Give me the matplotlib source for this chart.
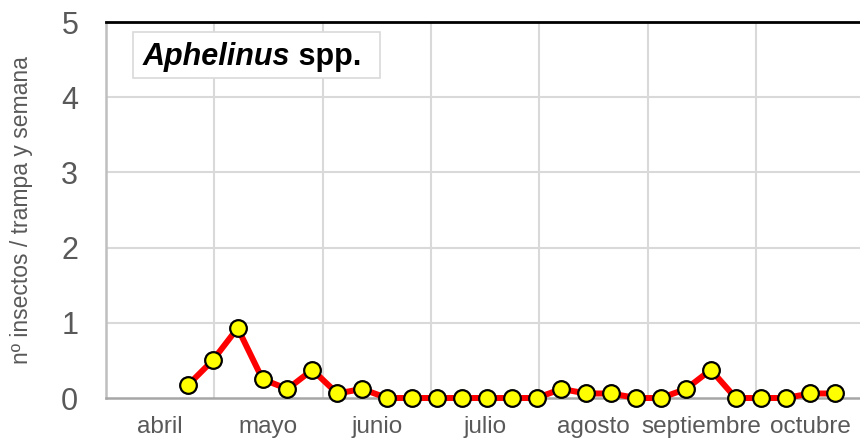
import matplotlib
matplotlib.use("Agg")
import matplotlib.pyplot as plt
from matplotlib.patches import Rectangle
import matplotlib.transforms as mtransforms
from datetime import date

plt.rcParams['font.family'] = ['Liberation Sans', 'DejaVu Sans']

# weekly trap counts (dates of sampling)
fechas = ['2000-04-24', '2000-05-01', '2000-05-08', '2000-05-15', '2000-05-22',
          '2000-05-29', '2000-06-05', '2000-06-12', '2000-06-19', '2000-06-26',
          '2000-07-03', '2000-07-10', '2000-07-17', '2000-07-24', '2000-07-31',
          '2000-08-07', '2000-08-14', '2000-08-21', '2000-08-28', '2000-09-04',
          '2000-09-11', '2000-09-18', '2000-09-25', '2000-10-02', '2000-10-09',
          '2000-10-16', '2000-10-23']
capturas = [0.17, 0.5, 0.93, 0.25, 0.12, 0.375, 0.06, 0.12, 0.0, 0.0,
            0.0, 0.0, 0.0, 0.0, 0.0, 0.12, 0.06, 0.06, 0.0, 0.0,
            0.12, 0.375, 0.0, 0.0, 0.0, 0.06, 0.06]
meses = ['abril', 'mayo', 'junio', 'julio', 'agosto', 'septiembre', 'octubre']

inicio = date(2000, 4, 1)
x = [(date.fromisoformat(f) - inicio).days / 30.44 for f in fechas]

W, H = 860, 441
fig = plt.figure(figsize=(W / 100, H / 100), dpi=100)
ax = fig.add_axes([106 / W, 1 - 398 / H, 1 - 106 / W, 376 / H])

ax.plot(x, capturas, color='#ff0000', lw=4.3, marker='o', ms=12,
        mfc='#ffff00', mec='black', mew=1.6, zorder=3, clip_on=False)

ax.set_ylim(0, 5)
ax.set_xlim(0, 6.962)
ax.set_yticks(range(6))
ax.set_xticks([i + 0.5 for i in range(len(meses))])
ax.set_xticklabels(meses)

ax.grid(False)
for v in range(1, 7):
    ax.axvline(v, color='#d9d9d9', lw=1.5, zorder=0)
for h in range(1, 5):
    ax.axhline(h, color='#d9d9d9', lw=1.5, zorder=0)

ax.tick_params(axis='y', length=0, pad=20, labelsize=22, labelcolor='#595959')
ax.tick_params(axis='x', length=0, pad=13, labelsize=17.5, labelcolor='#595959')

ax.spines['top'].set_color('black')
ax.spines['top'].set_linewidth(2)
ax.spines['right'].set_visible(False)
ax.spines['left'].set_color('#bfbfbf')
ax.spines['left'].set_linewidth(1.8)
ax.spines['bottom'].set_color('#a6a6a6')
ax.spines['bottom'].set_linewidth(1.8)

ax.set_ylabel('nº insectos / trampa y semana', fontsize=16.5, color='#595959')
ax.yaxis.set_label_coords(-0.097, 0.5)

# title box (pixel coords of the original layout)
fig.patches.append(Rectangle((133 / W, 1 - 78 / H), (380 - 133) / W, 46 / H,
                             transform=fig.transFigure, fc='white',
                             ec='#d9d9d9', lw=1.2, zorder=5))
t1 = fig.text(143 / W, 1 - 65 / H, 'Aphelinus', fontsize=22, fontweight='bold',
              fontstyle='italic', va='baseline', ha='left', zorder=6)
r = fig.canvas.get_renderer()
ancho = t1.get_window_extent(r).width
t2 = fig.text(143 / W, 1 - 65 / H, ' spp.', fontsize=22, fontweight='bold',
              va='baseline', ha='left', zorder=6,
              transform=mtransforms.offset_copy(fig.transFigure, fig=fig,
                                                x=ancho * 72 / 100, y=0,
                                                units='points'))

fig.savefig('out.png', dpi=100)
